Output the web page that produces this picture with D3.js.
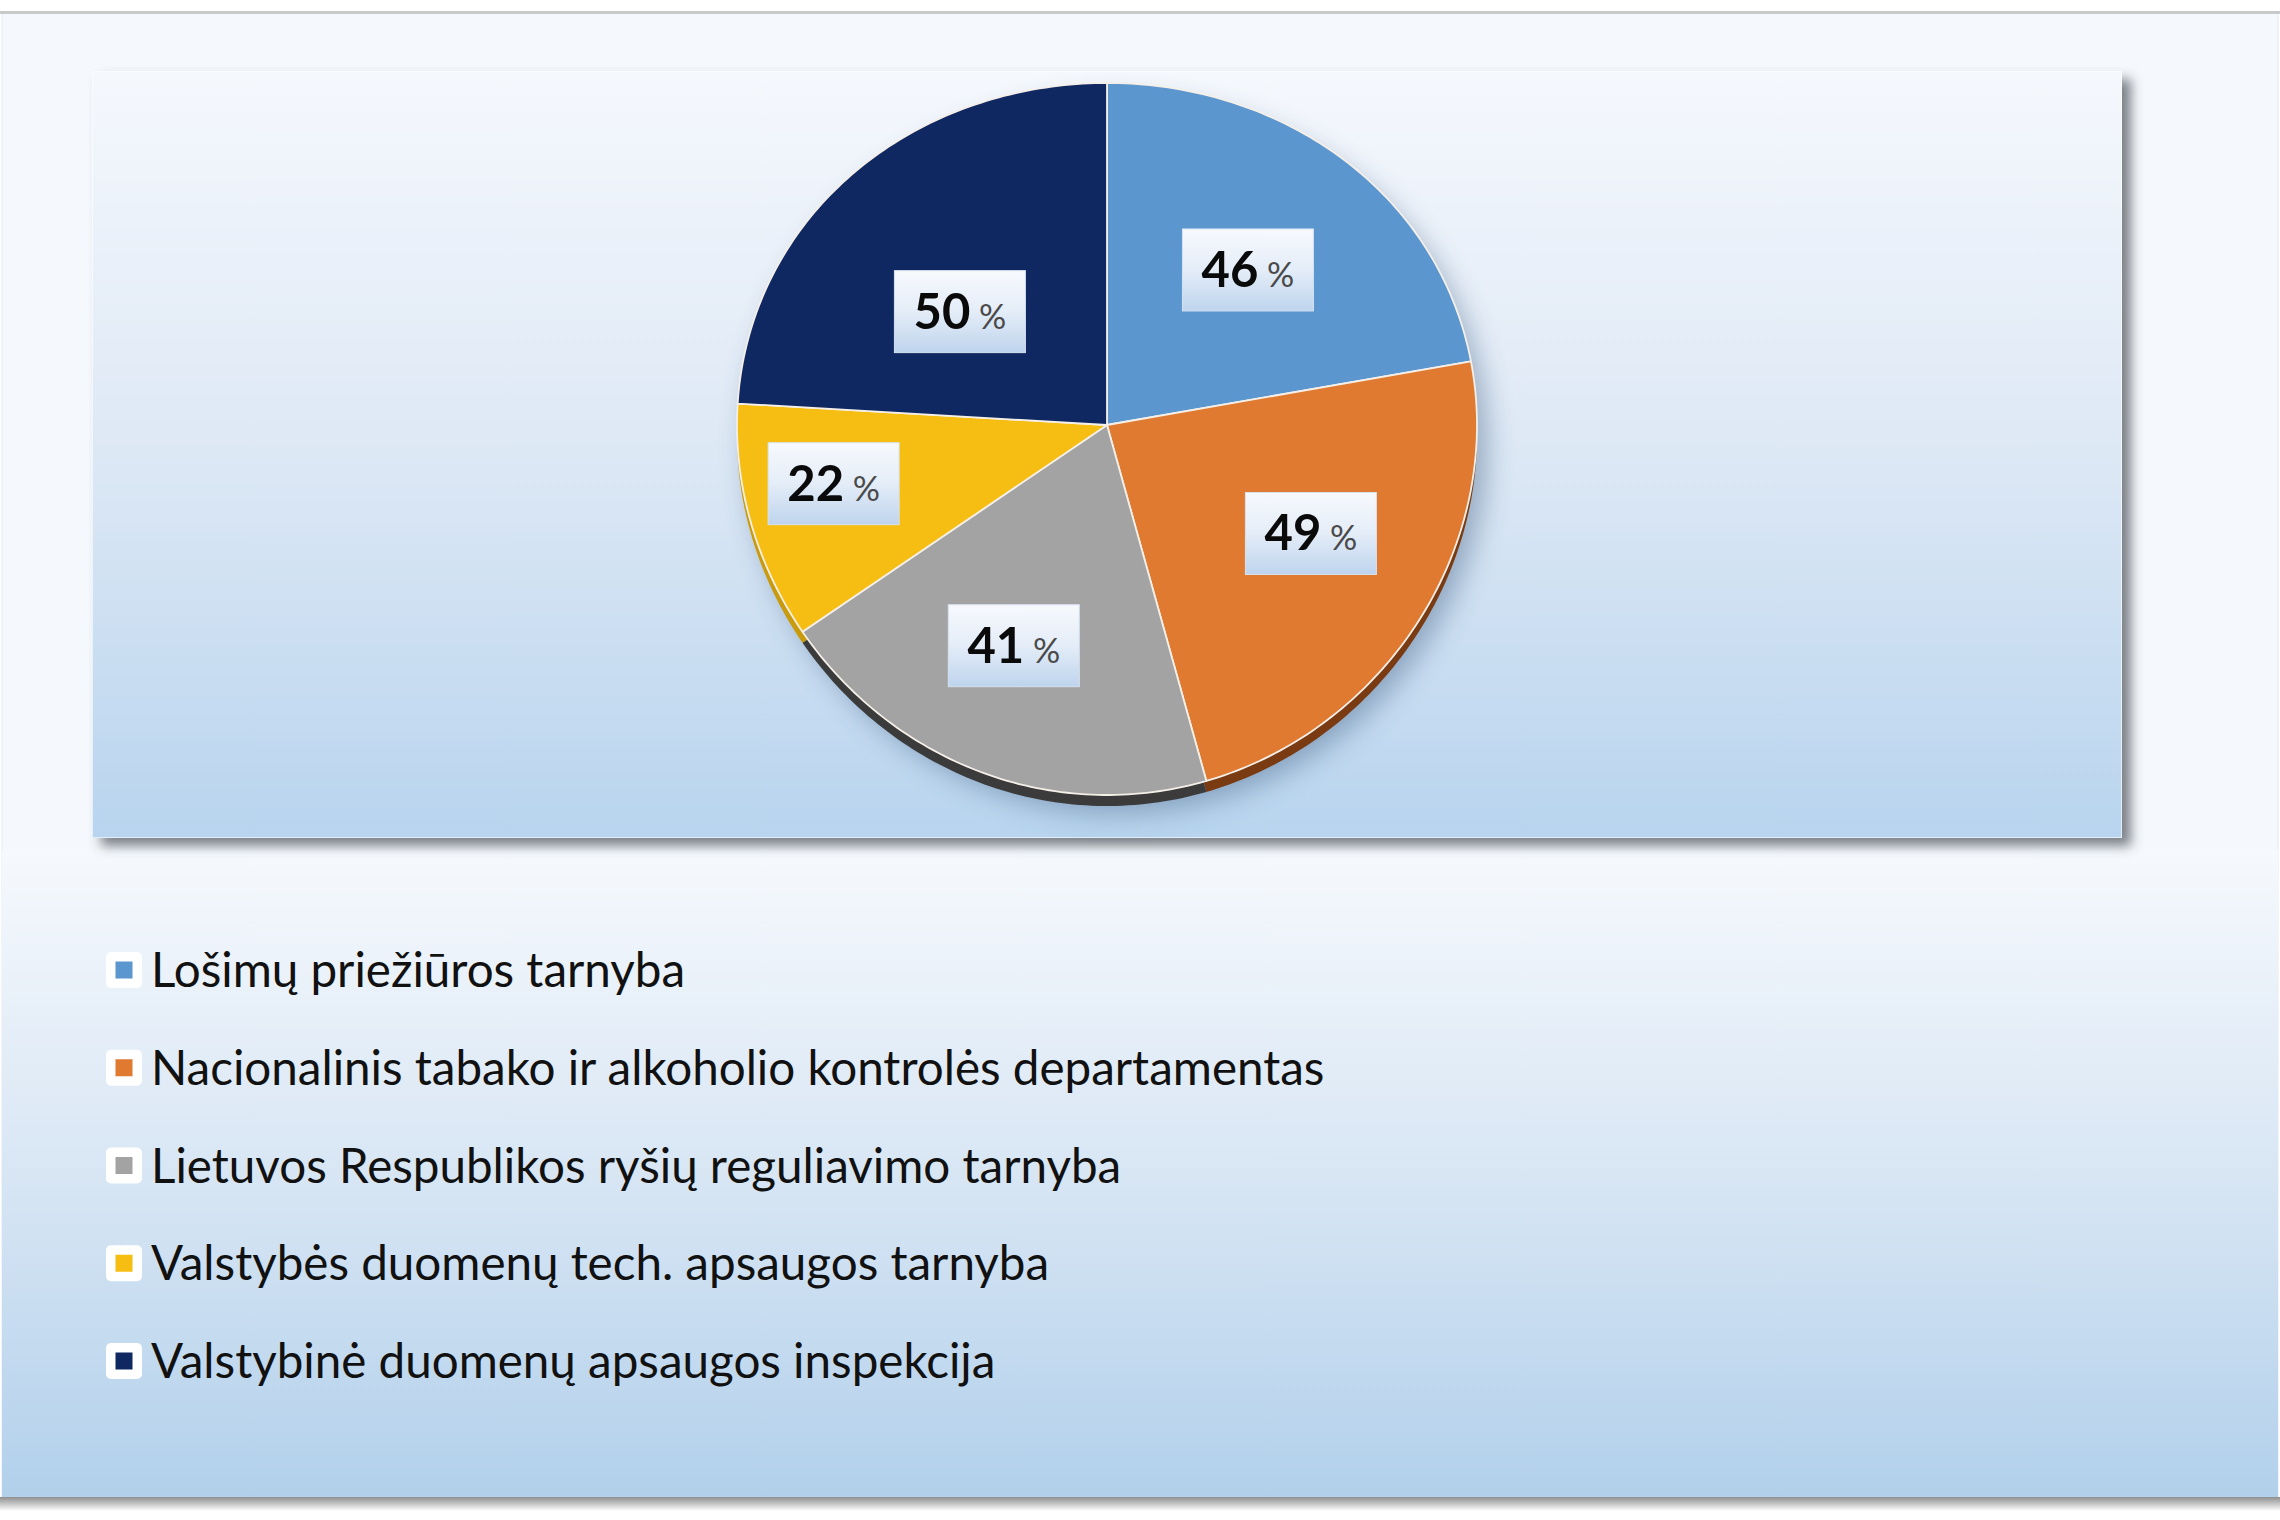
<!DOCTYPE html>
<html><head><meta charset="utf-8">
<script src="https://cdn.jsdelivr.net/npm/d3@7/dist/d3.min.js"></script>
<style>html,body{margin:0;padding:0;background:#fff;} svg{display:block}</style>
</head><body>
<svg id="c" width="2280" height="1520"></svg>
<script>
// ---- data ----
const categories = [
  "Lošimų priežiūros tarnyba",
  "Nacionalinis tabako ir alkoholio kontrolės departamentas",
  "Lietuvos Respublikos ryšių reguliavimo tarnyba",
  "Valstybės duomenų tech. apsaugos tarnyba",
  "Valstybinė duomenų apsaugos inspekcija"
];
const values = [46, 49, 41, 22, 50];
const valueUnit = "%";
const colors = ["#5b96cf", "#e07a31", "#a3a3a3", "#f6be12", "#0f2861"];
const rimColors = ["#2f5e8c", "#7a3a12", "#3b3b3b", "#c99a0c", "#07132f"];

// ---- layout ----
const W = 2280, H = 1520;
const svg = d3.select("#c");
const defs = svg.append("defs");
function vgrad(id, stops) {
  const g = defs.append("linearGradient").attr("id", id)
    .attr("x1", 0).attr("y1", 0).attr("x2", 0).attr("y2", 1);
  stops.forEach(([o, c]) => g.append("stop").attr("offset", o).attr("stop-color", c));
}
vgrad("gLegend", [[0, "#f6f9fd"], [0.5, "#d8e6f4"], [1, "#b2d0eb"]]);
vgrad("gPlot", [[0, "#f5f8fd"], [0.5, "#dde8f5"], [1, "#b8d4ee"]]);
vgrad("gLabel", [[0, "#f7f9fd"], [0.5, "#e4edf8"], [1, "#bed4ed"]]);
vgrad("gBottom", [[0, "#8f8f8f"], [1, "#ffffff"]]);

const f1 = defs.append("filter").attr("id", "plotShadow")
  .attr("x", "-5%").attr("y", "-5%").attr("width", "112%").attr("height", "120%");
f1.append("feDropShadow").attr("dx", 9).attr("dy", 8).attr("stdDeviation", 6)
  .attr("flood-color", "#4a4f57").attr("flood-opacity", 0.7);
const f2 = defs.append("filter").attr("id", "pieShadow")
  .attr("x", "-20%").attr("y", "-20%").attr("width", "140%").attr("height", "140%");
f2.append("feGaussianBlur").attr("stdDeviation", 14);

// outer panel
svg.append("rect").attr("x", 0).attr("y", 0).attr("width", W).attr("height", H).attr("fill", "#ffffff");
svg.append("rect").attr("x", 2).attr("y", 13).attr("width", W - 4).attr("height", 1485).attr("fill", "#f5f8fc")
  .attr("stroke", "#e6eaef").attr("stroke-width", 1);
svg.append("rect").attr("x", 0).attr("y", 11).attr("width", W).attr("height", 3).attr("fill", "#c9c9c9");
svg.append("rect").attr("x", 2).attr("y", 850).attr("width", W - 4).attr("height", 648).attr("fill", "url(#gLegend)");
svg.append("rect").attr("x", 0).attr("y", 1497).attr("width", W).attr("height", 14).attr("fill", "url(#gBottom)");

// plot area
const plot = { x: 92, y: 71, w: 2030, h: 767 };
svg.append("rect").attr("x", plot.x).attr("y", plot.y).attr("width", plot.w).attr("height", plot.h)
  .attr("fill", "url(#gPlot)").attr("filter", "url(#plotShadow)");
svg.append("rect").attr("x", plot.x + 0.5).attr("y", plot.y + 0.5).attr("width", plot.w - 1).attr("height", plot.h - 1)
  .attr("fill", "none").attr("stroke", "#ffffff").attr("stroke-opacity", 0.6).attr("stroke-width", 1);

// ---- pie (tilted, perspective) ----
const cx = 1107, cy = 425, R = 370;
const ryFar = 342, ryNear = 370, depth = 11;
const rScale = d3.scaleLinear().domain([0, 1]).range([0, R]);
function proj(angle, f) {
  const u = Math.sin(angle) * f, v = -Math.cos(angle) * f;
  const ryMid = (ryFar + ryNear) / 2, ryDelta = (ryNear - ryFar) / 2;
  return [cx + rScale(u), cy + v * (ryMid + ryDelta * v)];
}
const pie = d3.pie().sort(null).value(d => d);
const arcs = pie(values);
const line = d3.line();
function slicePath(a, dy) {
  const n = Math.max(8, Math.ceil((a.endAngle - a.startAngle) * 60));
  const pts = [[cx, cy + dy]];
  for (let i = 0; i <= n; i++) {
    const t = a.startAngle + (a.endAngle - a.startAngle) * i / n;
    const p = proj(t, 1);
    pts.push([p[0], p[1] + dy]);
  }
  return line(pts) + "Z";
}
const fullPie = { startAngle: 0, endAngle: 2 * Math.PI };

// soft shadow under the pie
svg.append("path").attr("d", slicePath(fullPie, 0))
  .attr("transform", "translate(10,18)")
  .attr("fill", "#3f5f82").attr("opacity", 0.45).attr("filter", "url(#pieShadow)");

// rims (side of 3D pie)
svg.append("g").selectAll("path").data(arcs).join("path")
  .attr("d", d => slicePath(d, depth))
  .attr("fill", (d, i) => rimColors[i]);

// faces
svg.append("g").selectAll("path").data(arcs).join("path")
  .attr("d", d => slicePath(d, 0))
  .attr("fill", (d, i) => colors[i])
  .attr("stroke", "#f4efe8").attr("stroke-width", 1.8).attr("stroke-linejoin", "round");

// ---- data labels ----
const labelFrac = [[0.595, 0.577], [0.65, 0.568], [0.74, 0.644], [0.767, 0.61], [0.58, 0.443]];
const boxW = 131, boxH = 82;
const lg = svg.append("g").selectAll("g").data(arcs).join("g")
  .attr("transform", (d, i) => {
    const mid = (d.startAngle + d.endAngle) / 2;
    const fx = labelFrac[i][0], fy = labelFrac[i][1];
    const x = cx + rScale(Math.sin(mid) * fx);
    const v = -Math.cos(mid) * fy;
    const y = cy + v * ((ryFar + ryNear) / 2 + (ryNear - ryFar) / 2 * v);
    return `translate(${x},${y})`;
  });
lg.append("rect").attr("x", -boxW / 2).attr("y", -boxH / 2).attr("width", boxW).attr("height", boxH)
  .attr("fill", "url(#gLabel)").attr("stroke", "#d6e2f0").attr("stroke-width", 1);
const lt = lg.append("text").attr("text-anchor", "middle").attr("y", 17)
  .style("font-family", "Lato, 'Open Sans', sans-serif");
lt.append("tspan").text(d => d.data).attr("font-size", 49).attr("font-weight", 700).attr("fill", "#0a0a0a");
lt.append("tspan").text(" " + valueUnit).attr("font-size", 34).attr("font-weight", 400).attr("fill", "#4a4a4a");

// ---- legend ----
const ly = d3.scalePoint().domain(categories).range([970, 1361]);
const leg = svg.append("g").selectAll("g").data(categories).join("g")
  .attr("transform", d => `translate(0,${ly(d)})`);
leg.append("rect").attr("x", 106).attr("y", -18).attr("width", 36).attr("height", 36).attr("rx", 5)
  .attr("fill", "#ffffff");
leg.append("rect").attr("x", 115.5).attr("y", -8.5).attr("width", 17).attr("height", 17)
  .attr("fill", (d, i) => colors[i]);
const legText = leg.append("text").attr("x", 151).attr("y", 0).attr("dy", "0.36em")
  .attr("fill", "#111111")
  .style("font-family", "Lato, 'Open Sans', sans-serif")
  .attr("font-size", 44)
  .text(d => d);
// fit font size to reference width of longest entry
const longest = legText.filter((d, i) => i === 1).node();
const len = longest.getComputedTextLength();
const fs = 44 * 1174 / len;
legText.attr("font-size", fs);
</script>
</body></html>
